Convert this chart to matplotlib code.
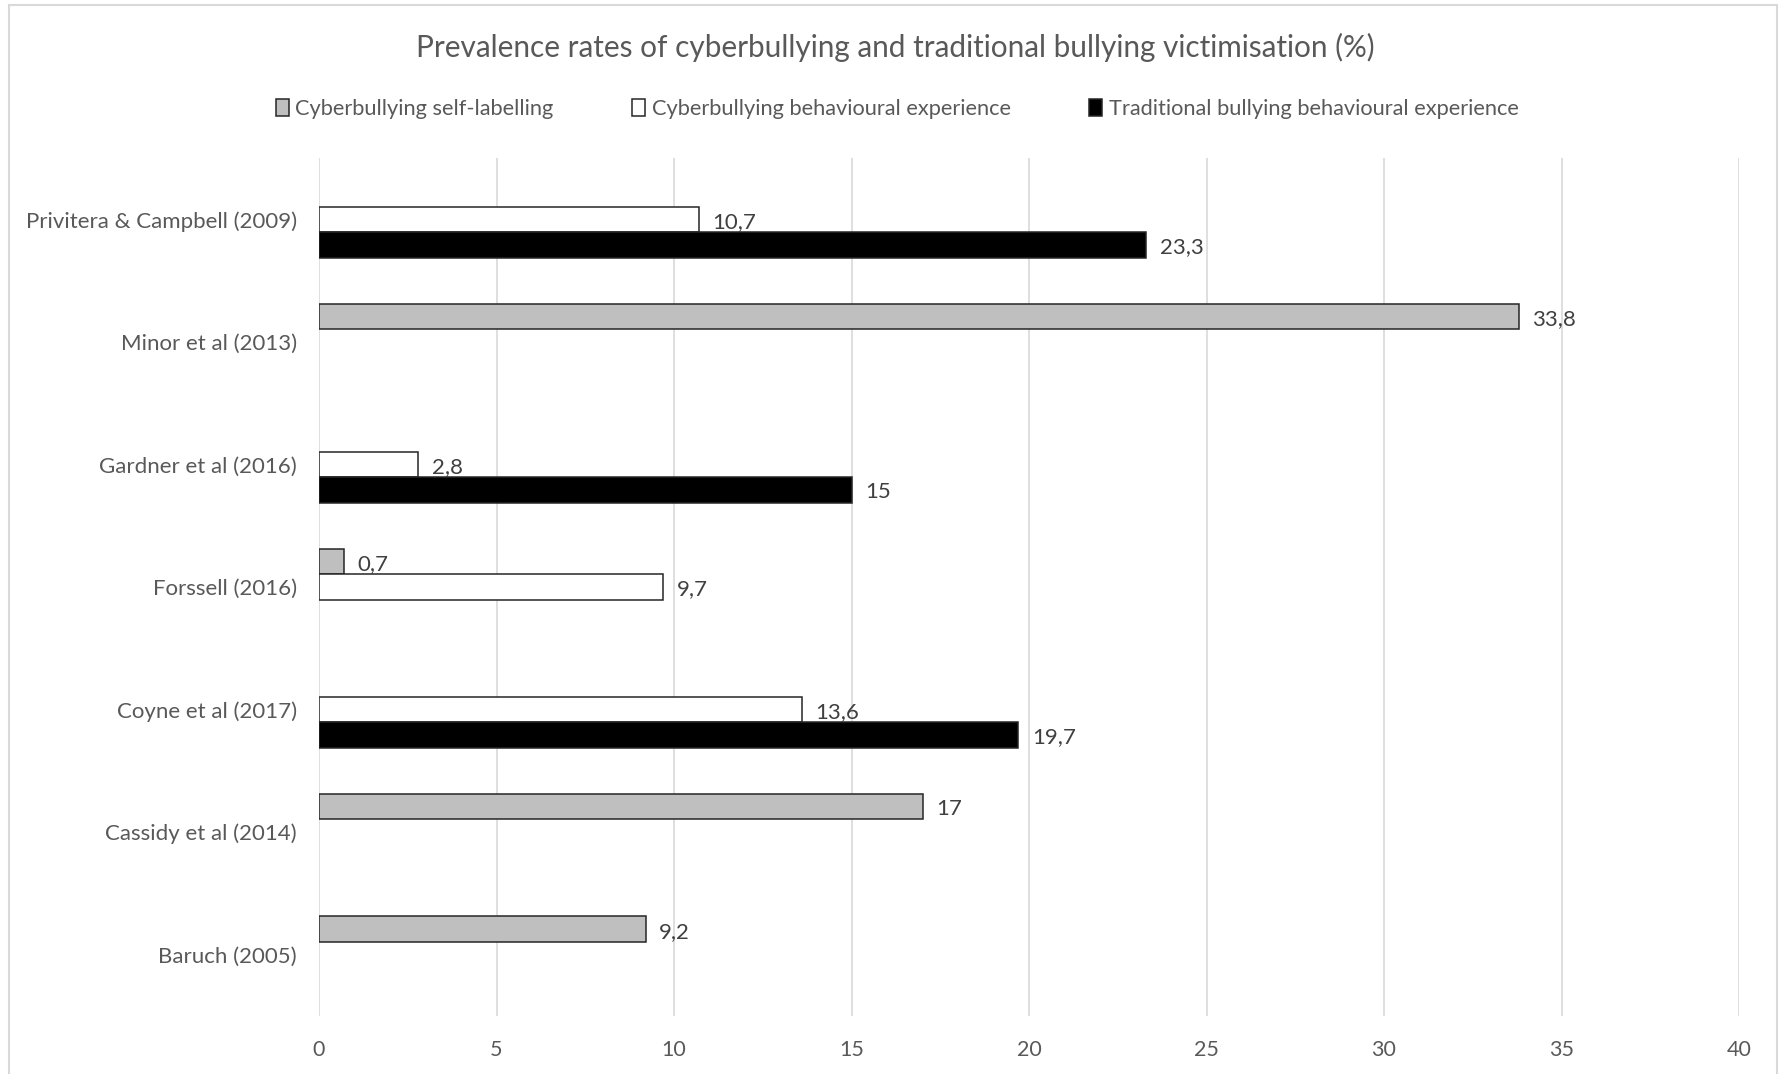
import numpy as np
import matplotlib
matplotlib.use("Agg")
from matplotlib import pyplot as plt
from matplotlib.patches import Rectangle, Patch

plt.rcParams['font.family'] = ['Lato', 'DejaVu Sans']

# studies, listed bottom to top
studies = ["Baruch (2005)", "Cassidy et al (2014)", "Coyne et al (2017)", "Forssell (2016)",
           "Gardner et al (2016)", "Minor et al (2013)", "Privitera & Campbell (2009)"]
self_labelling = [9.2, 17, np.nan, 0.7, np.nan, 33.8, np.nan]
cyber_behavioural = [np.nan, np.nan, 13.6, 9.7, 2.8, np.nan, 10.7]
traditional_behavioural = [np.nan, np.nan, 19.7, np.nan, 15, np.nan, 23.3]
series_names = ["Cyberbullying self-labelling", "Cyberbullying behavioural experience",
                "Traditional bullying behavioural experience"]
x_ticks = [0, 5, 10, 15, 20, 25, 30, 35, 40]

text_col = "#595959"
grid_col = "#d9d9d9"
fills = ["#bfbfbf", "#ffffff", "#000000"]

fig = plt.figure(figsize=(17.8, 10.74), dpi=100)
# outer chart frame
fig.patches.append(Rectangle((9 / 1780, -0.05), 1768 / 1780, 1.05 - 5 / 1074, transform=fig.transFigure,
                             fill=False, edgecolor=grid_col, linewidth=1.5))

ax = fig.add_axes([319 / 1780, 1 - 1016 / 1074, (1739 - 319) / 1780, (1016 - 158) / 1074])

h = 1 / 4.8
y = np.arange(len(studies))
offsets = [h, 0, -h]
for vals, off, col in zip([self_labelling, cyber_behavioural, traditional_behavioural], offsets, fills):
    vals = np.array(vals, dtype=float)
    ok = ~np.isnan(vals)
    ax.barh(y[ok] + off, vals[ok], height=h, color=col, edgecolor="#262626", linewidth=1.1, zorder=3)
    for yy, v in zip(y[ok] + off, vals[ok]):
        ax.text(v + 0.38, yy - 0.02, f"{v:g}".replace(".", ","), va="center", ha="left",
                fontsize=16, color="#404040")

ax.set_xlim(0, 40)
ax.set_ylim(-0.5, len(studies) - 0.5)
ax.set_xticks(x_ticks)
ax.set_xticklabels([str(t) for t in x_ticks])
ax.set_yticks(y)
ax.set_yticklabels(studies)
ax.tick_params(length=0, labelsize=15.5, colors=text_col)
ax.tick_params(axis="y", labelsize=16, pad=16)
ax.tick_params(axis="x", pad=17)
ax.xaxis.grid(True, color=grid_col, linewidth=1.2, zorder=0)
ax.set_axisbelow(True)
for s in ax.spines.values():
    s.set_visible(False)

fig.text(895 / 1780, 1 - 47 / 1074, "Prevalence rates of cyberbullying and traditional bullying victimisation (%)",
         ha="center", va="center", fontsize=21.4, color=text_col)

handles = [Patch(facecolor=c, edgecolor="#262626", linewidth=1.1) for c in fills]
fig.legend(handles, series_names, loc="center", bbox_to_anchor=(897 / 1780, 1 - 109 / 1074), ncol=3,
           frameon=False, fontsize=15.7, labelcolor=text_col, handlelength=0.6, handleheight=0.8,
           handletextpad=0.3, columnspacing=3.6)

fig.savefig("out.png", dpi=100, facecolor="white")
